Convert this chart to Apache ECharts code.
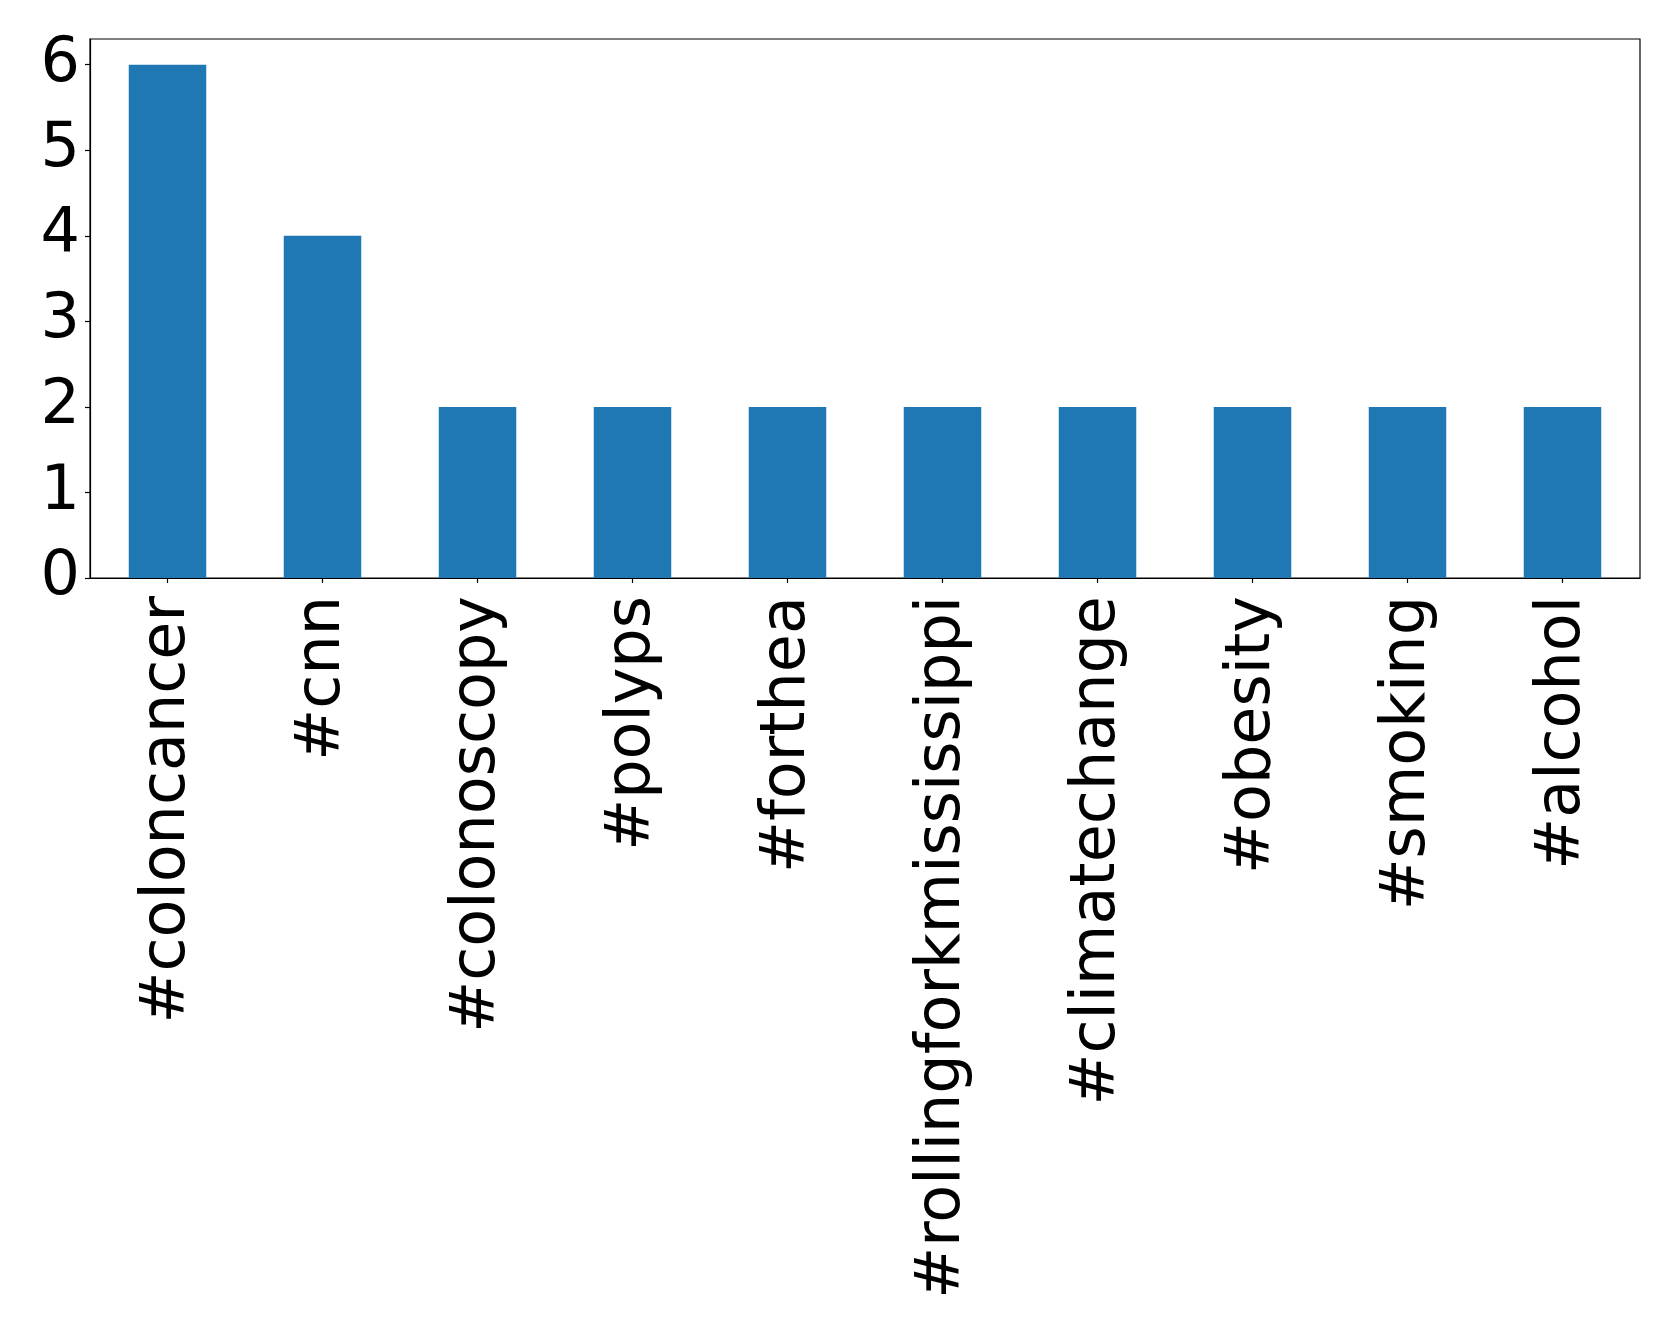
<!DOCTYPE html>
<html>
<head>
<meta charset="utf-8">
<script src="https://cdn.jsdelivr.net/npm/echarts@6/dist/echarts.min.js"></script>
<style>
html,body{margin:0;padding:0;background:#fff;}
#chart{width:1679px;height:1336px;}
</style>
</head>
<body>
<div id="chart"></div>
<script>
const categories = ['#coloncancer','#cnn','#colonoscopy','#polyps','#forthea','#rollingforkmississippi','#climatechange','#obesity','#smoking','#alcohol'];
const counts = [6,4,2,2,2,2,2,2,2,2];
const yTicks = [0,1,2,3,4,5,6];

const chart = echarts.init(document.getElementById('chart'), null, {renderer:'canvas'});
const font = 'DejaVu Sans';
chart.setOption({
  animation: false,
  backgroundColor: '#ffffff',
  grid: {left: 90, right: 39, top: 39, bottom: 758, show: true, borderColor: '#000', borderWidth: 1.2, backgroundColor: 'transparent'},
  xAxis: {
    type: 'category',
    data: categories,
    boundaryGap: true,
    axisLine: {show: true, lineStyle: {color: '#000', width: 1.2}},
    axisTick: {show: true, alignWithLabel: true, length: 5, lineStyle: {color: '#000', width: 1.2}},
    axisLabel: {rotate: 90, margin: 18, fontSize: 62, fontFamily: font, color: '#000', interval: 0, padding: [7,0,0,0]}
  },
  yAxis: {
    type: 'value',
    min: 0, max: 6.3, interval: 1,
    splitLine: {show: false},
    axisLine: {show: true, lineStyle: {color: '#000', width: 1.2}},
    axisTick: {show: true, length: 5, lineStyle: {color: '#000', width: 1.2}, customValues: yTicks},
    axisLabel: {margin: 10, fontSize: 62, fontFamily: font, color: '#000', customValues: yTicks, verticalAlign: 'middle', lineHeight: 62, padding: [16,0,0,0]}
  },
  series: [{
    type: 'bar',
    data: counts,
    barWidth: '50%',
    itemStyle: {color: '#1f77b4'}
  }]
});
</script>
</body>
</html>
